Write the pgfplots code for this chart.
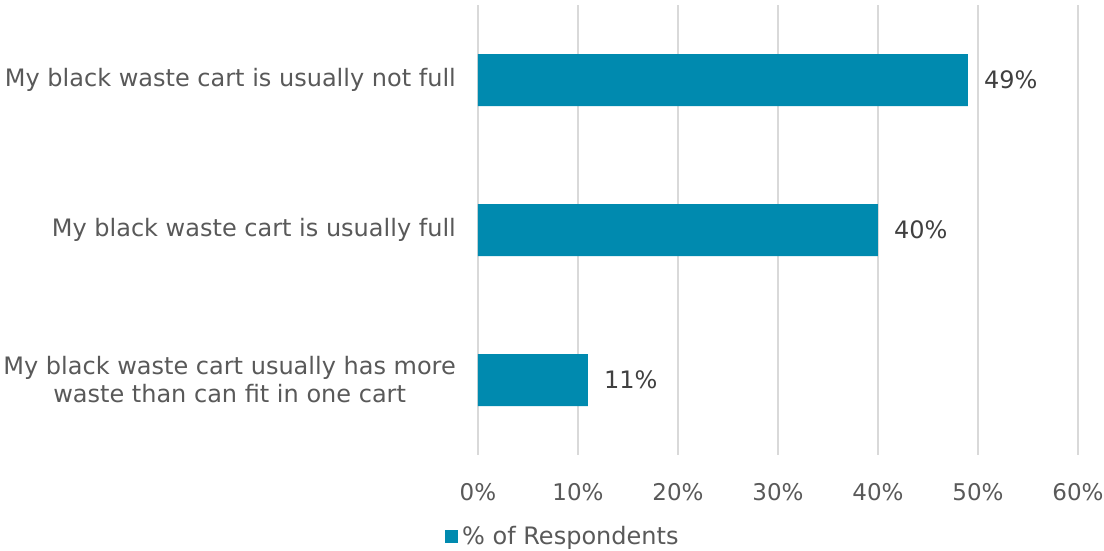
\documentclass[border=0pt]{standalone}
\usepackage{pgfplots}
\pgfplotsset{compat=1.18}
\usepackage{fontspec}
\setmainfont{DejaVu Sans}
\definecolor{barc}{HTML}{008AAF}
\definecolor{lblc}{HTML}{595959}
\definecolor{datc}{HTML}{404040}
\definecolor{gridc}{HTML}{D9D9D9}
\begin{document}
\fontsize{24}{28}\selectfont
\begin{tikzpicture}
\useasboundingbox (-478pt,-95pt) rectangle (626pt,455pt);
\begin{axis}[
  at={(0,0)}, anchor=south west,
  scale only axis, width=600pt, height=450pt,
  xbar, bar width=52pt,
  xmin=0, xmax=60, ymin=-0.5, ymax=2.5,
  y dir=reverse,
  axis line style={draw=none},
  xtick={0,10,...,60},
  xmajorgrids, grid style={gridc, line width=1.2pt},
  major tick length=0pt,
  /pgf/number format/assume math mode=true,
  xticklabel={\pgfmathprintnumber{\tick}\%},
  xticklabel style={text=lblc, font=\fontsize{23}{28}\selectfont, yshift=-20pt},
  ytick={0,1,2},
  yticklabels={My black waste cart is usually not full, My black waste cart is usually full, {My black waste cart usually has more\\waste than can fit in one cart}},
  yticklabel style={text=lblc, align=center, font=\fontsize{24}{28}\selectfont, xshift=-14pt},
  nodes near coords={\pgfmathprintnumber{\pgfplotspointmeta}\%},
  point meta=x,
  every node near coord/.append style={text=datc, font=\fontsize{24}{28}\selectfont, xshift=8pt},
  legend style={at={(rel axis cs:-0.055,-0.182)}, anchor=west, draw=none, fill=none, font=\fontsize{24}{28}\selectfont, text=lblc, inner sep=0pt, /tikz/every even column/.append style={column sep=0pt}},
  legend image code/.code={\fill[barc] (0pt,-6pt) rectangle (13pt,7pt);},
  legend cell align=left,
  clip=false,
]
\addplot[fill=barc, draw=none] coordinates {(49,0) (40,1) (11,2)};
\addlegendentry{\hspace{2pt}\% of Respondents}
\end{axis}
\end{tikzpicture}
\end{document}
